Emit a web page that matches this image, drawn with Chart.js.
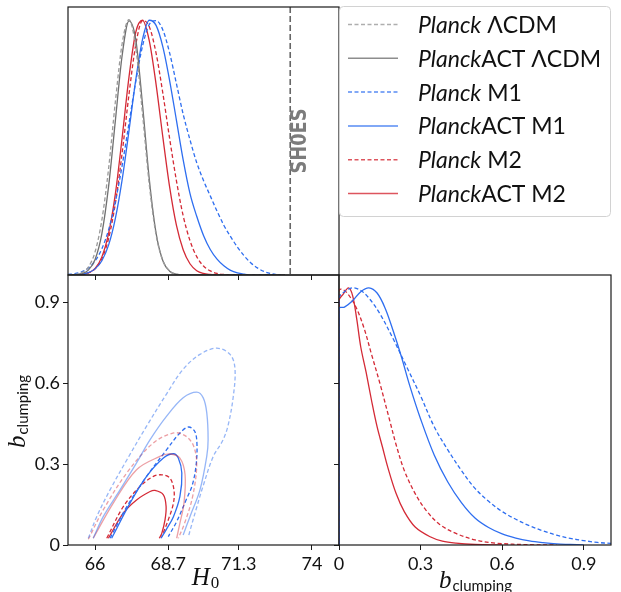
<!DOCTYPE html>
<html>
<head>
<meta charset="utf-8">
<script src="https://cdn.jsdelivr.net/npm/chart.js@4.4.0/dist/chart.umd.min.js"></script>
<style>
  body { margin: 0; background: #fff; }
  #wrap { position: relative; width: 621px; height: 592px; }
  #wrap canvas { position: absolute; left: 0; top: 0; }
</style>
</head>
<body>
<div id="wrap">
  <canvas id="h0Chart" width="621" height="592"></canvas>
  <canvas id="contourChart" width="621" height="592"></canvas>
  <canvas id="bChart" width="621" height="592"></canvas>
</div>
<script>
// ---- data ----
const h0Grid = [65.0, 65.25, 65.5, 65.75, 66.0, 66.25, 66.5, 66.75, 67.0, 67.25, 67.5, 67.75,
  68.0, 68.25, 68.5, 68.75, 69.0, 69.25, 69.5, 69.75, 70.0, 70.25, 70.5, 70.75,
  71.0, 71.25, 71.5, 71.75, 72.0, 72.25, 72.5, 72.75, 73.0];

// normalised 1D posteriors of H0 on h0Grid
const planckLcdmH0 = [0, 0.002, 0.009, 0.031, 0.091, 0.216, 0.419, 0.681, 0.908, 1.0, 0.891, 0.631,
  0.354, 0.158, 0.056, 0.016, 0.003, 0.001, 0, 0, 0, 0, 0, 0, 0, 0, 0, 0, 0, 0, 0, 0, 0];
const actLcdmH0 = [0, 0.001, 0.005, 0.019, 0.061, 0.162, 0.349, 0.607, 0.862, 0.996, 0.923, 0.667,
  0.375, 0.164, 0.056, 0.015, 0.003, 0, 0, 0, 0, 0, 0, 0, 0, 0, 0, 0, 0, 0, 0, 0, 0];
const planckM1H0 = [0.002, 0.005, 0.012, 0.027, 0.055, 0.103, 0.178, 0.288, 0.43, 0.594, 0.758, 0.897,
  0.982, 0.997, 0.96, 0.87, 0.75, 0.63, 0.53, 0.44, 0.37, 0.31, 0.25, 0.195,
  0.15, 0.11, 0.075, 0.047, 0.027, 0.013, 0.005, 0.001, 0];
const actM1H0 = [0, 0.001, 0.003, 0.009, 0.024, 0.056, 0.118, 0.223, 0.375, 0.565, 0.764, 0.923,
  0.998, 0.978, 0.894, 0.762, 0.607, 0.451, 0.32, 0.23, 0.155, 0.1, 0.062, 0.036,
  0.018, 0.008, 0.003, 0, 0, 0, 0, 0, 0];
const planckM2H0 = [0, 0.001, 0.002, 0.008, 0.024, 0.063, 0.144, 0.282, 0.48, 0.707, 0.902, 0.997,
  0.973, 0.869, 0.712, 0.535, 0.37, 0.232, 0.135, 0.072, 0.035, 0.016, 0.006, 0.002,
  0, 0, 0, 0, 0, 0, 0, 0, 0];
const actM2H0 = [0, 0.001, 0.002, 0.008, 0.026, 0.071, 0.164, 0.32, 0.54, 0.775, 0.951, 0.998,
  0.917, 0.747, 0.54, 0.345, 0.195, 0.099, 0.044, 0.017, 0.006, 0.002, 0, 0,
  0, 0, 0, 0, 0, 0, 0, 0, 0];

// normalised 1D posteriors of b_clumping, [b, density]
const planckM1B = [[0, 0], [0, 0.96], [0.02, 0.985], [0.05, 1.0], [0.08, 0.99], [0.11, 0.96], [0.15, 0.9],
  [0.2, 0.8], [0.25, 0.69], [0.3, 0.58], [0.35, 0.46], [0.4, 0.37], [0.45, 0.29], [0.5, 0.22],
  [0.55, 0.17], [0.6, 0.13], [0.65, 0.1], [0.7, 0.075], [0.75, 0.055], [0.8, 0.038], [0.85, 0.026],
  [0.9, 0.017], [0.95, 0.01], [1.0, 0.006]];
const actM1B = [[0, 0], [0, 0.92], [0.02, 0.925], [0.05, 0.95], [0.08, 0.985], [0.11, 1.0], [0.14, 0.98],
  [0.17, 0.92], [0.2, 0.83], [0.23, 0.73], [0.26, 0.62], [0.3, 0.49], [0.35, 0.35], [0.4, 0.245],
  [0.45, 0.165], [0.5, 0.105], [0.55, 0.068], [0.6, 0.043], [0.65, 0.027], [0.7, 0.016],
  [0.75, 0.009], [0.8, 0.004], [0.85, 0.002], [0.9, 0]];
const planckM2B = [[0, 0], [0, 0.99], [0.01, 0.995], [0.03, 0.98], [0.06, 0.93], [0.09, 0.85], [0.12, 0.74],
  [0.15, 0.63], [0.185, 0.49], [0.21, 0.39], [0.24, 0.29], [0.28, 0.2], [0.32, 0.135], [0.37, 0.08],
  [0.43, 0.045], [0.5, 0.02], [0.58, 0.007], [0.7, 0.001], [0.8, 0]];
const actM2B = [[0, 0], [0, 0.95], [0.015, 0.975], [0.035, 1.0], [0.05, 0.97], [0.065, 0.88], [0.08, 0.77],
  [0.1, 0.67], [0.12, 0.56], [0.14, 0.46], [0.16, 0.38], [0.18, 0.3], [0.21, 0.2], [0.24, 0.13],
  [0.28, 0.07], [0.335, 0.032], [0.38, 0.015], [0.43, 0.007], [0.5, 0.002], [0.6, 0]];

// 68% / 95% contours in the (H0, b_clumping) plane, [H0, b]
const planckM1Outer = [[65.75, 0.025], [66.06, 0.105], [66.55, 0.204], [67.17, 0.315], [67.9, 0.44],
  [68.64, 0.56], [69.25, 0.651], [69.87, 0.706], [70.49, 0.729], [70.98, 0.706], [71.16, 0.655],
  [71.1, 0.551], [70.9, 0.44], [70.7, 0.385], [70.36, 0.328], [69.99, 0.22], [69.75, 0.14],
  [69.55, 0.07], [69.44, 0.03]];
const actM1Outer = [[65.93, 0.025], [66.3, 0.105], [66.92, 0.204], [67.53, 0.304], [68.03, 0.39],
  [68.64, 0.477], [69.25, 0.545], [69.75, 0.566], [69.99, 0.545], [70.12, 0.49], [70.17, 0.39],
  [70.12, 0.328], [69.87, 0.204], [69.5, 0.105], [69.25, 0.037]];
const planckM1Inner = [[66.55, 0.025], [67.17, 0.142], [67.9, 0.254], [68.64, 0.353], [69.13, 0.415],
  [69.45, 0.437], [69.68, 0.42], [69.76, 0.37], [69.72, 0.29], [69.58, 0.22], [69.38, 0.172],
  [69.01, 0.087], [68.7, 0.031]];
const actM1Inner = [[66.61, 0.025], [67.29, 0.155], [67.9, 0.254], [68.52, 0.322], [68.89, 0.338],
  [69.07, 0.322], [69.2, 0.267], [69.13, 0.18], [68.89, 0.105], [68.62, 0.056], [68.43, 0.025]];
const planckM2Outer = [[65.75, 0.021], [66.3, 0.13], [67.17, 0.267], [68.15, 0.378], [68.9, 0.415],
  [69.32, 0.405], [69.62, 0.37], [69.75, 0.3], [69.6, 0.18], [69.3, 0.08], [69.07, 0.025]];
const actM2Outer = [[65.93, 0.025], [66.67, 0.155], [67.53, 0.279], [68.39, 0.328], [68.76, 0.337],
  [69.13, 0.322], [69.32, 0.26], [69.28, 0.155], [69.13, 0.081], [69.01, 0.025]];
const planckM2Inner = [[66.43, 0.025], [67.04, 0.142], [67.66, 0.217], [68.15, 0.254], [68.46, 0.26],
  [68.76, 0.248], [68.91, 0.204], [68.89, 0.155], [68.7, 0.093], [68.46, 0.031]];
const actM2Inner = [[66.49, 0.025], [67.04, 0.118], [67.53, 0.167], [68.03, 0.198], [68.21, 0.202],
  [68.52, 0.186], [68.62, 0.142], [68.58, 0.093], [68.46, 0.043], [68.37, 0.025]];

const h0Ticks = [66, 68.7, 71.3, 74];
const bTicks = [0, 0.3, 0.6, 0.9];
const shoesH0 = 73.2;
const seriesNames = [["Planck", " \u039BCDM"], ["Planck", "ACT \u039BCDM"], ["Planck", " M1"],
  ["Planck", "ACT M1"], ["Planck", " M2"], ["Planck", "ACT M2"]];

// ---- styling ----
const GRAY_D = "#9a9a9a", GRAY = "#707070", BLUE = "#2e6ef0", RED = "#d42a36";
const BLUE_LIGHT = "rgba(46,110,240,0.5)", RED_LIGHT = "rgba(212,42,54,0.45)";
const DASH = [4, 2.5];
const H0_MIN = 65, H0_MAX = 75, B_MAX = 1.0, DENS_MAX = 1.05;
const TICK_FONT = { family: "Lato", size: 18 };

function line(pts, color, dashed) {
  return {
    data: pts.map(p => ({ x: p[0], y: p[1] })),
    borderColor: color, borderWidth: 1.3, borderDash: dashed ? DASH : [],
    pointRadius: 0, fill: false, tension: 0.35
  };
}
function gridLine(ys, color, dashed) {
  const ds = line(h0Grid.map((x, i) => [x, ys[i]]), color, dashed);
  ds.cubicInterpolationMode = "monotone";
  return ds;
}

function axis(min, max, ticks, showLabels, fit) {
  return {
    type: "linear", min, max,
    afterBuildTicks: s => { s.ticks = ticks.map(v => ({ value: v })); },
    afterFit: fit,
    ticks: { display: showLabels, autoSkip: false, maxRotation: 0, padding: 3, color: "#111",
      font: TICK_FONT, callback: v => String(v) },
    grid: { drawOnChartArea: false, drawTicks: true, tickLength: 5, color: "#1a1a1a" },
    border: { display: false }
  };
}

const framePlugin = {
  id: "frame",
  afterDraw(chart) {
    const { ctx, chartArea: a } = chart;
    ctx.save();
    ctx.strokeStyle = "#1a1a1a";
    ctx.lineWidth = 1.2;
    ctx.strokeRect(a.left, a.top, a.right - a.left, a.bottom - a.top);
    ctx.restore();
  }
};

function mathLabel(ctx, cx, cy, main, sub, subFont, subDy, rotate) {
  ctx.save();
  ctx.translate(cx, cy);
  if (rotate) ctx.rotate(-Math.PI / 2);
  ctx.fillStyle = "#111";
  ctx.textBaseline = "alphabetic";
  ctx.font = 'italic 25px "Liberation Serif"';
  const wm = ctx.measureText(main).width;
  ctx.font = subFont;
  const ws = ctx.measureText(sub).width;
  const x0 = -(wm + ws) / 2;
  ctx.font = 'italic 25px "Liberation Serif"';
  ctx.fillText(main, x0, 0);
  ctx.font = subFont;
  ctx.fillText(sub, x0 + wm + 1, subDy);
  ctx.restore();
}

const shoesPlugin = {
  id: "shoes",
  afterDatasetsDraw(chart) {
    const { ctx, chartArea: a, scales: { x } } = chart;
    const px = x.getPixelForValue(shoesH0);
    ctx.save();
    ctx.strokeStyle = "#666";
    ctx.lineWidth = 1.6;
    ctx.setLineDash([6, 3]);
    ctx.beginPath();
    ctx.moveTo(px, a.top);
    ctx.lineTo(px, a.bottom);
    ctx.stroke();
    ctx.setLineDash([]);
    ctx.translate(px + 10, 141);
    ctx.rotate(-Math.PI / 2);
    ctx.font = 'bold 22px "DejaVu Sans"';
    const w = ctx.measureText("SH0ES").width;
    ctx.scale(65 / w, 1);
    ctx.fillStyle = "#7c7c7c";
    ctx.textAlign = "center";
    ctx.textBaseline = "middle";
    ctx.fillText("SH0ES", 0, 0);
    ctx.restore();
  }
};

const legendPlugin = {
  id: "legendBox",
  afterDraw(chart) {
    const ctx = chart.ctx;
    ctx.save();
    ctx.beginPath();
    if (ctx.roundRect) ctx.roundRect(339.5, 6.5, 271, 210, 4);
    else ctx.rect(339.5, 6.5, 271, 210);
    ctx.fillStyle = "rgba(255,255,255,0.9)";
    ctx.fill();
    ctx.strokeStyle = "#d2d2d2";
    ctx.lineWidth = 1;
    ctx.stroke();
    chart.data.datasets.forEach((ds, i) => {
      const y = 24.5 + i * 33.8;
      ctx.globalAlpha = 0.8;
      ctx.strokeStyle = ds.borderColor;
      ctx.lineWidth = 1.5;
      ctx.setLineDash(ds.borderDash);
      ctx.beginPath();
      ctx.moveTo(348, y);
      ctx.lineTo(398, y);
      ctx.stroke();
      ctx.globalAlpha = 1;
      ctx.setLineDash([]);
      const [it, rest] = seriesNames[i];
      ctx.fillStyle = "#111";
      ctx.textBaseline = "middle";
      ctx.font = "italic 23px Lato";
      ctx.fillText(it, 418, y + 1);
      const w = ctx.measureText(it).width;
      ctx.font = "23px Lato";
      ctx.fillText(rest, 418 + w, y + 1);
    });
    ctx.restore();
  }
};

const base = {
  responsive: false, animation: false, events: [],
  plugins: { legend: { display: false }, tooltip: { enabled: false } }
};

// top-left: H0 marginals
new Chart(document.getElementById("h0Chart"), {
  type: "line",
  data: {
    datasets: [
      gridLine(planckLcdmH0, GRAY_D, true),
      gridLine(actLcdmH0, GRAY, false),
      gridLine(planckM1H0, BLUE, true),
      gridLine(actM1H0, BLUE, false),
      gridLine(planckM2H0, RED, true),
      gridLine(actM2H0, RED, false)
    ]
  },
  options: Object.assign({}, base, {
    layout: { padding: { left: 68, top: 7, right: 282, bottom: 312 } },
    scales: {
      x: axis(H0_MIN, H0_MAX, h0Ticks, false, s => { s.height = 5; }),
      y: { display: false, min: 0, max: DENS_MAX }
    }
  }),
  plugins: [shoesPlugin, framePlugin, legendPlugin]
});

// bottom-left: contours
new Chart(document.getElementById("contourChart"), {
  type: "line",
  data: {
    datasets: [
      line(planckM1Outer, BLUE_LIGHT, true),
      line(actM1Outer, BLUE_LIGHT, false),
      line(planckM2Outer, RED_LIGHT, true),
      line(actM2Outer, RED_LIGHT, false),
      line(planckM1Inner, BLUE, true),
      line(actM1Inner, BLUE, false),
      line(planckM2Inner, RED, true),
      line(actM2Inner, RED, false)
    ]
  },
  options: Object.assign({}, base, {
    layout: { padding: { left: 0, top: 275, right: 282, bottom: 0 } },
    scales: {
      x: axis(H0_MIN, H0_MAX, h0Ticks, true, s => { s.height = 47; }),
      y: axis(0, B_MAX, bTicks, true, s => { s.width = 68; })
    }
  }),
  plugins: [framePlugin, {
    id: "labels",
    afterDraw(chart) {
      mathLabel(chart.ctx, 205, 585, "H", "0", '17px "Liberation Serif"', 3, false);
      mathLabel(chart.ctx, 25, 412, "b", "clumping", "15px Lato", 3, true);
    }
  }]
});

// bottom-right: b_clumping marginals
new Chart(document.getElementById("bChart"), {
  type: "line",
  data: {
    datasets: [
      line(planckM1B, BLUE, true),
      line(actM1B, BLUE, false),
      line(planckM2B, RED, true),
      line(actM2B, RED, false)
    ]
  },
  options: Object.assign({}, base, {
    layout: { padding: { left: 329, top: 275, right: 10, bottom: 0 } },
    scales: {
      x: axis(0, B_MAX, bTicks, true, s => { s.height = 47; }),
      y: axis(0, DENS_MAX, bTicks.map(v => v * DENS_MAX / B_MAX), false, s => { s.width = 10; })
    }
  }),
  plugins: [framePlugin, {
    id: "labels",
    afterDraw(chart) {
      mathLabel(chart.ctx, 475, 588, "b", "clumping", "15px Lato", 3, false);
    }
  }]
});
</script>
</body>
</html>
